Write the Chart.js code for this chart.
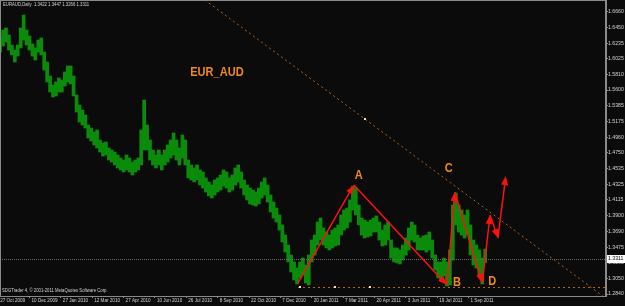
<!DOCTYPE html>
<html>
<head>
<meta charset="utf-8">
<script src="https://cdn.jsdelivr.net/npm/chart.js@4/dist/chart.umd.min.js"></script>
<style>
  html, body { margin: 0; padding: 0; background: #0b0b0b; }
  #wrap { width: 625px; height: 306px; }
</style>
</head>
<body>
<div id="wrap"><canvas id="c"></canvas></div>
<script>
// EURAUD daily bars (Oct 2009 - Sep 2011)
const symbol = 'EURAUD,Daily';
const lastBar = [1.3422, 1.3447, 1.3266, 1.3311]; // open, high, low, close
const copyright = 'SDGTrader 4, \u00a9 2001-2011 MetaQuotes Software Corp.';

const dateLabels = ['27 Oct 2009', '10 Dec 2009', '27 Jan 2010', '12 Mar 2010', '27 Apr 2010', '10 Jun 2010',
  '26 Jul 2010', '8 Sep 2010', '22 Oct 2010', '7 Dec 2010', '20 Jan 2011', '7 Mar 2011', '20 Apr 2011',
  '3 Jun 2011', '19 Jul 2011', '1 Sep 2011'];
const dateBars = [0, 32, 64, 96, 128, 160, 192, 224, 256, 288, 320, 352, 384, 416, 448, 480];

const priceTicks = [1.6660, 1.6450, 1.6235, 1.6025, 1.5810, 1.5600, 1.5385, 1.5175, 1.4960, 1.4750,
  1.4535, 1.4325, 1.4115, 1.3900, 1.3690, 1.3475, 1.3265, 1.3050, 1.2840];

// one column per ~3 trading days, starting 2 days after 27 Oct 2009
const firstBar = 2, barStep = 3;
const highs = [
  1.6304, 1.6412, 1.6439, 1.6344, 1.6209, 1.6141, 1.6209, 1.6439, 1.6615, 1.6412,
  1.6331, 1.6223, 1.6169, 1.6277, 1.6304, 1.6114, 1.5979, 1.5790, 1.5668, 1.5709,
  1.5763, 1.5736, 1.5844, 1.5925, 1.5925, 1.5790, 1.5533, 1.5397, 1.5330, 1.5262,
  1.5127, 1.5086, 1.5032, 1.5059, 1.4924, 1.4883, 1.4897, 1.4816, 1.4789, 1.4761,
  1.4721, 1.4680, 1.4653, 1.4721, 1.4680, 1.4626, 1.4653, 1.4680, 1.5059, 1.5465,
  1.5127, 1.4924, 1.4789, 1.4721, 1.4789, 1.4721, 1.4789, 1.4856, 1.4924, 1.5019,
  1.4924, 1.4816, 1.4991, 1.4924, 1.4653, 1.4586, 1.4545, 1.4586, 1.4518, 1.4491,
  1.4410, 1.4356, 1.4315, 1.4383, 1.4410, 1.4450, 1.4518, 1.4491, 1.4410, 1.4450,
  1.4545, 1.4586, 1.4491, 1.4383, 1.4315, 1.4274, 1.4247, 1.4220, 1.4274, 1.4356,
  1.4410, 1.4315, 1.4180, 1.4085, 1.4004, 1.3909, 1.3774, 1.3638, 1.3503, 1.3368,
  1.3273, 1.3192, 1.3273, 1.3327, 1.3233, 1.3368, 1.3571, 1.3638, 1.3814, 1.3868,
  1.3733, 1.3679, 1.3638, 1.3706, 1.3733, 1.3774, 1.3909, 1.3977, 1.4004, 1.4112,
  1.4301, 1.4274, 1.4044, 1.3868, 1.3841, 1.3814, 1.3841, 1.3868, 1.3896, 1.3814,
  1.3706, 1.3774, 1.3814, 1.3571, 1.3463, 1.3463, 1.3436, 1.3503, 1.3598, 1.3733,
  1.3814, 1.3774, 1.3638, 1.3598, 1.3625, 1.3638, 1.3679, 1.3571, 1.3368, 1.3273,
  1.3273, 1.3327, 1.3273, 1.3436, 1.4044, 1.4207, 1.4044, 1.3977, 1.3909, 1.3977,
  1.3774, 1.3571, 1.3503, 1.3436, 1.3327, 1.3447
];
const lows = [
  1.6114, 1.6196, 1.6250, 1.6141, 1.6074, 1.5979, 1.6060, 1.6169, 1.6277, 1.6209,
  1.6141, 1.6060, 1.6006, 1.6114, 1.6074, 1.5871, 1.5709, 1.5573, 1.5506, 1.5519,
  1.5573, 1.5573, 1.5654, 1.5709, 1.5682, 1.5519, 1.5303, 1.5167, 1.5127, 1.5086,
  1.4951, 1.4910, 1.4856, 1.4816, 1.4761, 1.4707, 1.4721, 1.4653, 1.4626, 1.4586,
  1.4545, 1.4518, 1.4491, 1.4518, 1.4491, 1.4450, 1.4491, 1.4518, 1.4586, 1.4789,
  1.4789, 1.4653, 1.4586, 1.4545, 1.4586, 1.4518, 1.4586, 1.4626, 1.4680, 1.4721,
  1.4653, 1.4586, 1.4680, 1.4586, 1.4410, 1.4383, 1.4356, 1.4383, 1.4315, 1.4274,
  1.4220, 1.4166, 1.4139, 1.4180, 1.4220, 1.4247, 1.4301, 1.4274, 1.4220, 1.4247,
  1.4315, 1.4356, 1.4274, 1.4180, 1.4112, 1.4058, 1.4044, 1.4031, 1.4058, 1.4139,
  1.4180, 1.4085, 1.3950, 1.3868, 1.3814, 1.3706, 1.3544, 1.3408, 1.3273, 1.3138,
  1.3030, 1.2976, 1.3057, 1.3097, 1.2989, 1.2962, 1.3273, 1.3368, 1.3503, 1.3571,
  1.3503, 1.3463, 1.3436, 1.3463, 1.3490, 1.3503, 1.3638, 1.3706, 1.3733, 1.3814,
  1.3977, 1.3909, 1.3774, 1.3638, 1.3598, 1.3611, 1.3625, 1.3679, 1.3679, 1.3571,
  1.3490, 1.3503, 1.3571, 1.3327, 1.3273, 1.3260, 1.3246, 1.3300, 1.3368, 1.3436,
  1.3571, 1.3544, 1.3436, 1.3436, 1.3436, 1.3408, 1.3436, 1.3327, 1.3165, 1.3057,
  1.3030, 1.3084, 1.2948, 1.2962, 1.3300, 1.3774, 1.3679, 1.3638, 1.3598, 1.3638,
  1.3368, 1.3233, 1.3192, 1.3097, 1.2976, 1.3266
];

// hand drawn ABCD wave
const waveNames = ['', 'A', 'B', 'C', 'D', '', '', ''];
const waveBars = [306, 363, 458, 466, 494, 502, 510, 518];
const wavePrices = [1.2988, 1.4315, 1.2961, 1.4220, 1.2988, 1.3909, 1.3597, 1.4436];

// dotted trend lines
const trendBars = [211, 617];
const trendPrices = [1.6818, 1.2813];
const supportPrice = 1.2935, supportFromBar = 306;
const anchorBars = [374, 308, 344, 379];
const anchorPrices = [1.5208, 1.2935, 1.2935, 1.2935];

const textBar = 196, textPrice = 1.5925, textLabel = 'EUR_AUD';

const xMin = 1.9, xMax = 620.3;
const yMin = 1.2813, yMax = 1.6818;

const axisColor = '#8a8a8a';
const textColor = '#d4d4d4';
const orange = '#f2891c';

function arrow(ctx, x1, y1, x2, y2) {
  const a = Math.atan2(y2 - y1, x2 - x1);
  const len = 9, w = 3.5;
  ctx.beginPath();
  ctx.moveTo(x1, y1);
  ctx.lineTo(x2 - Math.cos(a) * len * 0.7, y2 - Math.sin(a) * len * 0.7);
  ctx.stroke();
  ctx.beginPath();
  ctx.moveTo(x2, y2);
  ctx.lineTo(x2 - len * Math.cos(a) + w * Math.sin(a), y2 - len * Math.sin(a) - w * Math.cos(a));
  ctx.lineTo(x2 - len * Math.cos(a) - w * Math.sin(a), y2 - len * Math.sin(a) + w * Math.cos(a));
  ctx.closePath();
  ctx.fill();
}

function squeezedText(ctx, text, x, y, font, sx) {
  ctx.save();
  ctx.font = font;
  ctx.translate(x, y);
  ctx.scale(sx, 1);
  ctx.fillText(text, 0, 0);
  ctx.restore();
}

const background = {
  id: 'background',
  beforeDraw(chart) {
    const ctx = chart.ctx;
    ctx.save();
    ctx.fillStyle = '#0b0b0b';
    ctx.fillRect(0, 0, chart.width, chart.height);
    ctx.restore();
  }
};

const overlay = {
  id: 'overlay',
  afterDatasetsDraw(chart) {
    const ctx = chart.ctx, a = chart.chartArea;
    const x = chart.scales.x, y = chart.scales.y;
    ctx.save();
    ctx.beginPath();
    ctx.rect(a.left, a.top, a.right - a.left, a.bottom - a.top);
    ctx.clip();

    // bid line
    ctx.strokeStyle = '#6a6a6a';
    ctx.lineWidth = 1;
    ctx.setLineDash([1, 1]);
    const by = Math.round(y.getPixelForValue(lastBar[3])) + 0.5;
    ctx.beginPath(); ctx.moveTo(a.left, by); ctx.lineTo(a.right, by); ctx.stroke();

    // trend lines
    ctx.strokeStyle = '#b8621c';
    ctx.setLineDash([2, 3]);
    ctx.beginPath();
    ctx.moveTo(x.getPixelForValue(trendBars[0]), y.getPixelForValue(trendPrices[0]));
    ctx.lineTo(x.getPixelForValue(trendBars[1]), y.getPixelForValue(trendPrices[1]));
    ctx.stroke();
    const sy = Math.round(y.getPixelForValue(supportPrice)) + 0.5;
    ctx.beginPath(); ctx.moveTo(x.getPixelForValue(supportFromBar), sy); ctx.lineTo(a.right, sy); ctx.stroke();
    ctx.setLineDash([]);
    ctx.fillStyle = '#f0e0d0';
    anchorBars.forEach((b, i) => {
      ctx.fillRect(Math.round(x.getPixelForValue(b)) - 1, Math.round(y.getPixelForValue(anchorPrices[i])) - 1, 2, 2);
    });

    // wave arrows
    ctx.strokeStyle = '#ff1010';
    ctx.fillStyle = '#ff1010';
    ctx.lineWidth = 1.5;
    for (let i = 1; i < waveBars.length; i++) {
      arrow(ctx,
        x.getPixelForValue(waveBars[i - 1]), y.getPixelForValue(wavePrices[i - 1]),
        x.getPixelForValue(waveBars[i]), y.getPixelForValue(wavePrices[i]));
    }

    // wave letters
    const offs = { A: [5, -10], B: [10, -3], C: [-6, -24], D: [10, -2] };
    ctx.fillStyle = orange;
    ctx.textAlign = 'center';
    ctx.textBaseline = 'middle';
    waveNames.forEach((n, i) => {
      if (!n) return;
      const px = x.getPixelForValue(waveBars[i]) + offs[n][0];
      const py = y.getPixelForValue(wavePrices[i]) + offs[n][1];
      squeezedText(ctx, n, px, py, 'bold 13px "Liberation Sans", Arial, sans-serif', 0.85);
    });

    ctx.textAlign = 'left';
    ctx.textBaseline = 'top';
    squeezedText(ctx, textLabel, x.getPixelForValue(textBar), y.getPixelForValue(textPrice),
      'bold 13px "Liberation Sans", Arial, sans-serif', 0.85);

    // header and footer texts
    ctx.fillStyle = textColor;
    ctx.textBaseline = 'middle';
    squeezedText(ctx, symbol + '  ' + lastBar.map(v => v.toFixed(4)).join(' '), a.left + 3, a.top + 5,
      '5px "Liberation Sans", Arial, sans-serif', 0.85);
    squeezedText(ctx, copyright, a.left + 2, a.bottom - 5,
      '5px "Liberation Sans", Arial, sans-serif', 0.85);
    ctx.restore();

    // chart frame
    ctx.save();
    ctx.strokeStyle = axisColor;
    ctx.lineWidth = 1;
    ctx.strokeRect(a.left + 0.5, a.top + 0.5, a.right - a.left - 1, a.bottom - a.top);
    ctx.restore();
  },
  afterDraw(chart) {
    const ctx = chart.ctx, a = chart.chartArea, y = chart.scales.y;
    const py = Math.round(y.getPixelForValue(lastBar[3]));
    ctx.save();
    ctx.fillStyle = '#ffffff';
    ctx.fillRect(a.right + 1, py - 4, chart.width - a.right - 1, 8);
    ctx.fillStyle = '#000000';
    ctx.font = '5.2px "Liberation Sans", Arial, sans-serif';
    ctx.textBaseline = 'middle';
    ctx.fillText(lastBar[3].toFixed(4), a.right + 2, py);
    ctx.restore();
  }
};

new Chart(document.getElementById('c'), {
  type: 'bar',
  data: {
    datasets: [{
      data: highs.map((h, i) => ({ x: firstBar + i * barStep, y: [lows[i], h] })),
      backgroundColor: '#0a8c0a',
      borderWidth: 0,
      barThickness: 3
    }]
  },
  options: {
    responsive: true,
    maintainAspectRatio: false,
    devicePixelRatio: 1,
    animation: false,
    layout: { padding: 0 },
    plugins: { legend: { display: false }, tooltip: { enabled: false }, title: { display: false } },
    scales: {
      x: {
        type: 'linear',
        offset: false,
        min: xMin,
        max: xMax,
        afterBuildTicks: s => { s.ticks = dateBars.map(v => ({ value: v })); },
        afterFit: s => { s.height = 10; s.paddingLeft = 0; s.paddingRight = 0; },
        grid: { drawOnChartArea: false, color: axisColor, tickLength: 2, offset: false },
        border: { color: axisColor },
        ticks: {
          color: textColor,
          font: { size: 4.6, family: '"Liberation Sans", Arial, sans-serif' },
          padding: 0,
          maxRotation: 0,
          autoSkip: false,
          align: 'start',
          labelOffset: 2,
          callback: (v, i) => dateLabels[i]
        }
      },
      y: {
        type: 'linear',
        position: 'right',
        min: yMin,
        max: yMax,
        afterBuildTicks: s => { s.ticks = priceTicks.map(v => ({ value: v })); },
        afterFit: s => { s.width = 19; s.paddingTop = 0; s.paddingBottom = 0; },
        grid: { drawOnChartArea: false, color: axisColor, tickLength: 2 },
        border: { color: axisColor },
        ticks: {
          color: textColor,
          font: { size: 5.2, family: '"Liberation Sans", Arial, sans-serif' },
          padding: 0,
          autoSkip: false,
          callback: v => v.toFixed(4)
        }
      }
    }
  },
  plugins: [background, overlay]
});
</script>
</body>
</html>
